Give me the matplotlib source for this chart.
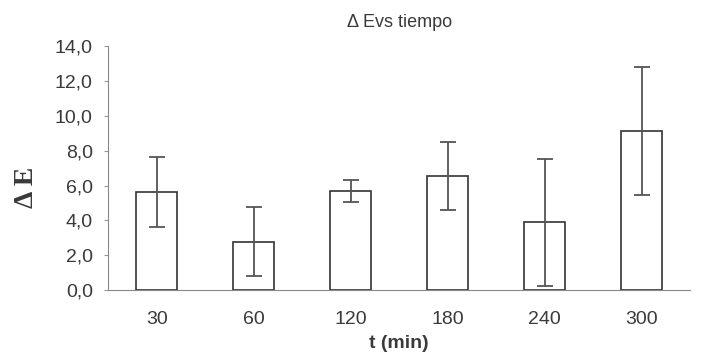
import matplotlib
matplotlib.use("Agg")
import matplotlib.pyplot as plt
from matplotlib.ticker import FuncFormatter

# Datos
tiempos = ['30', '60', '120', '180', '240', '300']
delta_e = [5.65, 2.77, 5.70, 6.54, 3.88, 9.14]
error = [2.01, 1.97, 0.63, 1.95, 3.65, 3.68]

plt.rcParams['font.family'] = ['Liberation Sans', 'DejaVu Sans']

fig = plt.figure(figsize=(7.02, 3.55), dpi=100)
ax = fig.add_axes([0.154, 0.183, 0.829, 0.687])

x = range(len(tiempos))
ax.bar(x, delta_e, width=0.42, color='white', edgecolor='#333333', linewidth=1.2,
       yerr=error, ecolor='#555555', capsize=6,
       error_kw={'elinewidth': 1.3, 'capthick': 1.3})

ax.set_xlim(-0.5, len(tiempos) - 0.5)
ax.set_ylim(0, 14)
ax.set_yticks([0, 2, 4, 6, 8, 10, 12, 14])
ax.yaxis.set_major_formatter(FuncFormatter(lambda v, p: f"{v:.1f}".replace('.', ',')))
ax.set_xticks(list(x))
ax.set_xticklabels(tiempos)

ax.spines['top'].set_visible(False)
ax.spines['right'].set_visible(False)
ax.spines['left'].set_color('#888888')
ax.spines['bottom'].set_color('#888888')
ax.tick_params(axis='y', labelsize=14, colors='#999999', labelcolor='#3a3a3a', length=3, pad=8)
ax.tick_params(axis='x', labelsize=14, length=0, pad=15, labelcolor='#3a3a3a')

ax.set_title('Δ Evs tiempo', fontsize=13, color='#3a3a3a', pad=14)
ax.set_xlabel('t (min)', fontsize=14, fontweight='bold', color='#3a3a3a', labelpad=5)
ax.set_ylabel('Δ E', fontsize=20, fontweight='bold', family=['Liberation Serif', 'DejaVu Serif'],
              color='#3a3a3a')
ax.yaxis.set_label_coords(-0.118, 0.42)

fig.savefig('out.png', dpi=100)
